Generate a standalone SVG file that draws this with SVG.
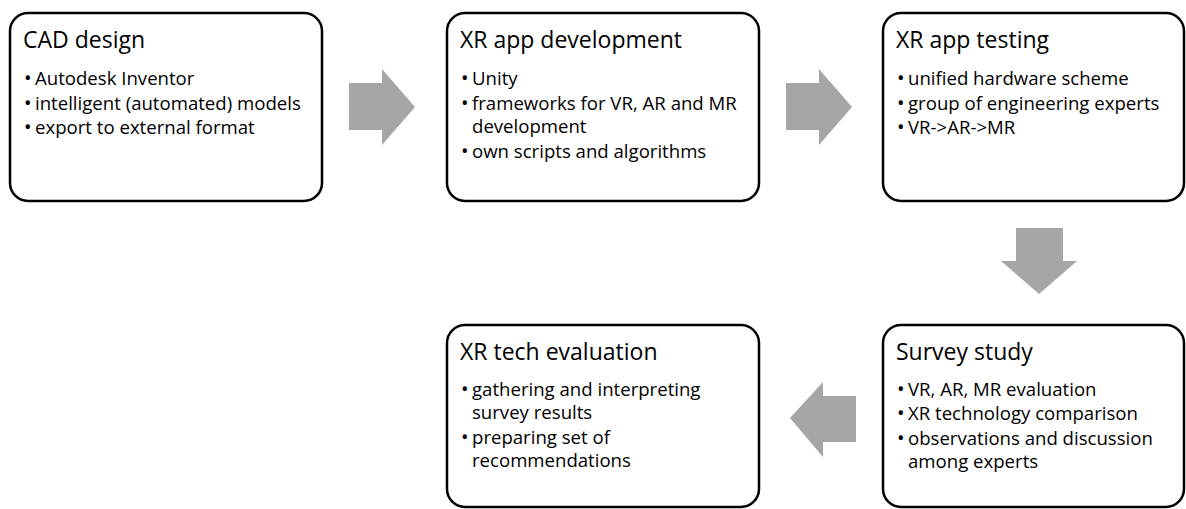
<svg xmlns="http://www.w3.org/2000/svg" width="1186" height="509" viewBox="0 0 1186 509">
<style>
.box{fill:#fff;stroke:#000;stroke-width:2.5}
.arrow{fill:#a6a6a6}
.t{font-family:"Open Sans","Noto Sans",sans-serif;font-size:23px;fill:#000}
.b{font-family:"Open Sans","Noto Sans",sans-serif;font-size:18.6px;fill:#000}
.d{font-size:20px}
</style>
<g id="connectors">
<polygon class="arrow" points="349,83 382,83 382,69 415,107 382,145 382,130 349,130"/>
<polygon class="arrow" points="786,83 819,83 819,69 852,107 819,145 819,130 786,130"/>
<polygon class="arrow" points="1016,228 1063,228 1063,261 1077,261 1039,294 1001,261 1016,261"/>
<polygon class="arrow" points="856,396 856,442 823,442 823,457 790,418 823,382 823,396"/>
</g>
<g id="cad">
<rect class="box" x="10" y="13" width="312" height="188" rx="18"/>
<text class="t" x="23" y="48">CAD design</text>
<text class="b"><tspan class="d" x="24" y="85">•</tspan><tspan x="35" y="85">Autodesk Inventor</tspan><tspan class="d" x="24" y="109.5">•</tspan><tspan x="35" y="109.5">intelligent (automated) models</tspan><tspan class="d" x="24" y="134">•</tspan><tspan x="35" y="134">export to external format</tspan></text>
</g>
<g id="dev">
<rect class="box" x="447" y="13" width="312" height="188" rx="18"/>
<text class="t" x="460" y="48">XR app development</text>
<text class="b"><tspan class="d" x="461" y="85">•</tspan><tspan x="472" y="85">Unity</tspan><tspan class="d" x="461" y="109.5">•</tspan><tspan x="472" y="109.5">frameworks for VR, AR and MR</tspan><tspan x="472" y="133">development</tspan><tspan class="d" x="461" y="157.5">•</tspan><tspan x="472" y="157.5">own scripts and algorithms</tspan></text>
</g>
<g id="test">
<rect class="box" x="883" y="13" width="301" height="188" rx="18"/>
<text class="t" x="896" y="48">XR app testing</text>
<text class="b"><tspan class="d" x="897" y="85">•</tspan><tspan x="908" y="85">unified hardware scheme</tspan><tspan class="d" x="897" y="109.5">•</tspan><tspan x="908" y="109.5">group of engineering experts</tspan><tspan class="d" x="897" y="134">•</tspan><tspan x="908" y="134">VR-&gt;AR-&gt;MR</tspan></text>
</g>
<g id="survey">
<rect class="box" x="883" y="325" width="301" height="182" rx="18"/>
<text class="t" x="896" y="360">Survey study</text>
<text class="b"><tspan class="d" x="897" y="395.5">•</tspan><tspan x="908" y="395.5">VR, AR, MR evaluation</tspan><tspan class="d" x="897" y="420">•</tspan><tspan x="908" y="420">XR technology comparison</tspan><tspan class="d" x="897" y="444.5">•</tspan><tspan x="908" y="444.5">observations and discussion</tspan><tspan x="908" y="468">among experts</tspan></text>
</g>
<g id="eval">
<rect class="box" x="447" y="325" width="312" height="182" rx="18"/>
<text class="t" x="460" y="360">XR tech evaluation</text>
<text class="b"><tspan class="d" x="461" y="395.5">•</tspan><tspan x="472" y="395.5">gathering and interpreting</tspan><tspan x="472" y="419">survey results</tspan><tspan class="d" x="461" y="443.5">•</tspan><tspan x="472" y="443.5">preparing set of</tspan><tspan x="472" y="467">recommendations</tspan></text>
</g>
</svg>
